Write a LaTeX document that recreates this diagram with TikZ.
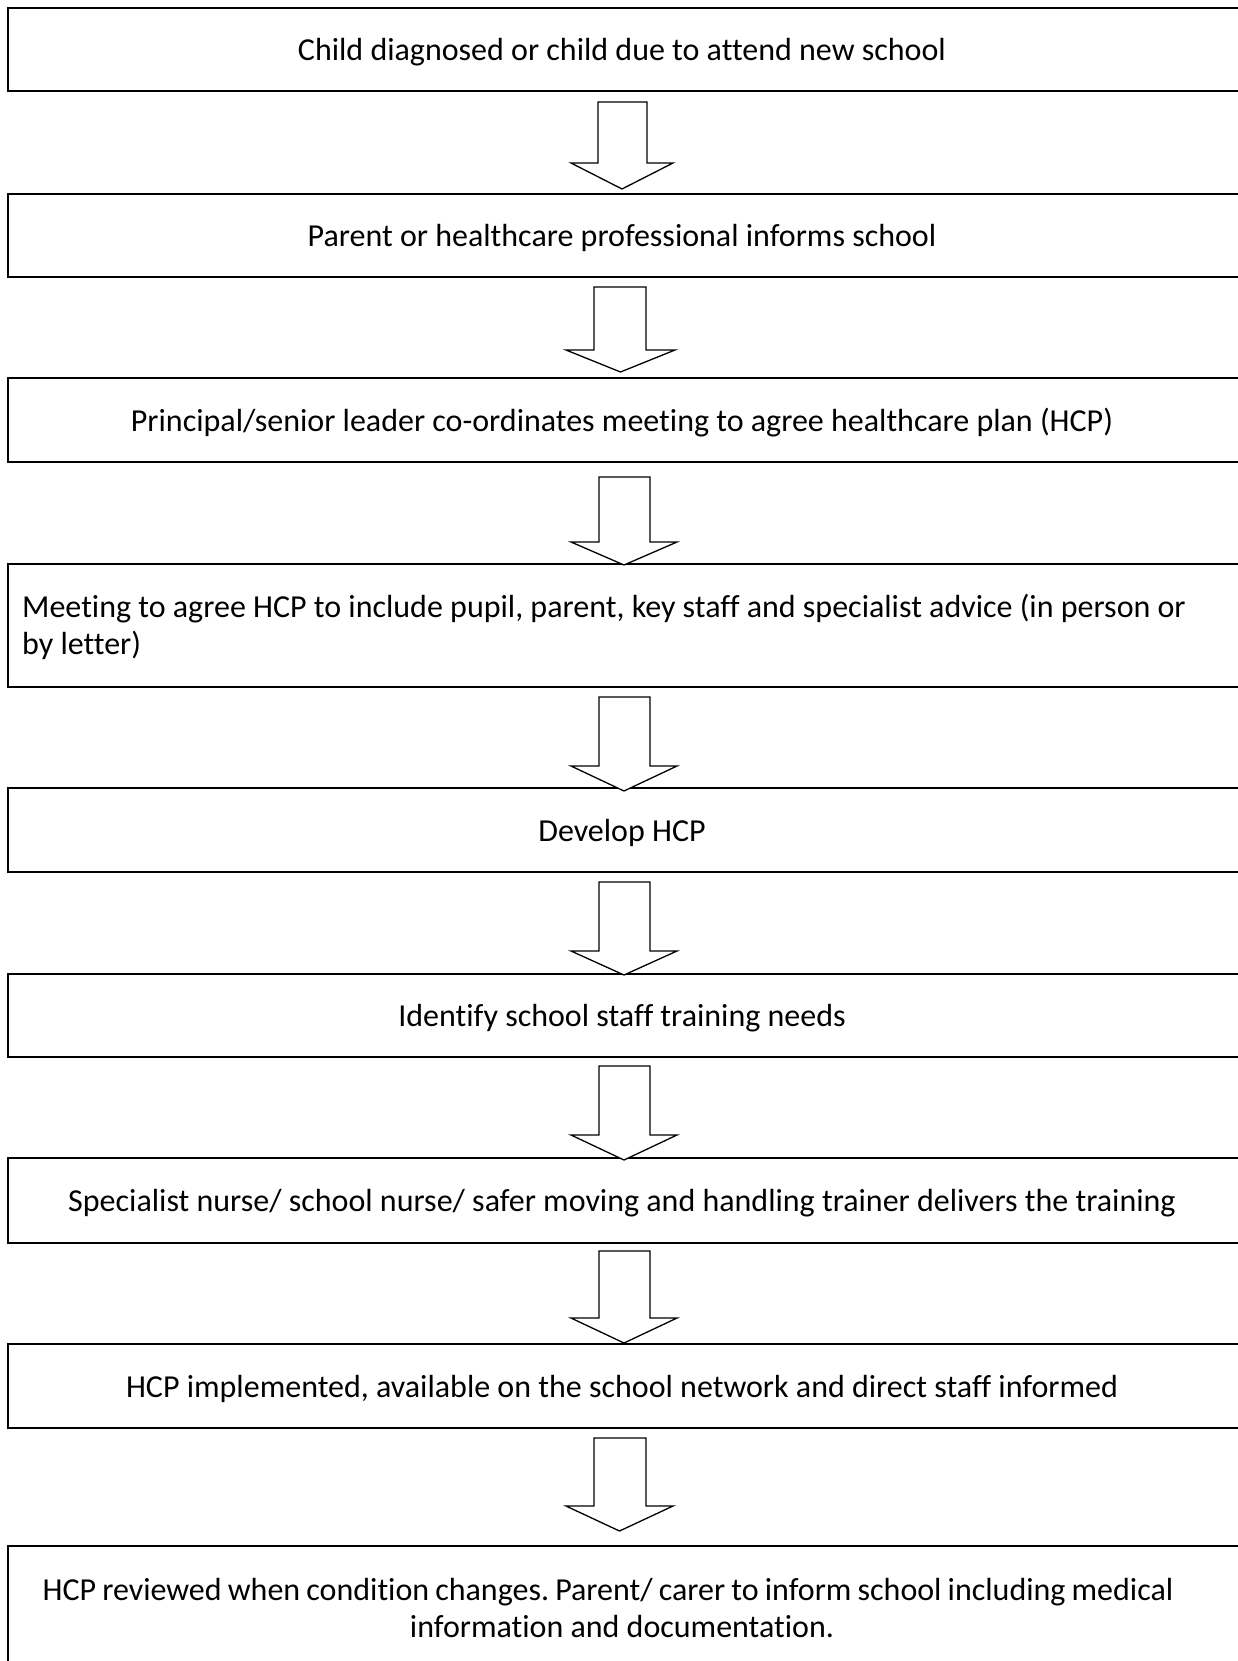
\documentclass[tikz,border=0pt]{standalone}
\usepackage{fontspec}
\setmainfont{Carlito}[Ligatures=NoCommon]
\frenchspacing
\newcommand{\blockarr}[7]{\draw[blockarrow] (#4,#1) -- (#5,#1) -- (#5,#2) -- (#7,#2) -- ({(#6+#7)/2},#3) -- (#6,#2) -- (#4,#2) -- cycle;}
\begin{document}
\begin{tikzpicture}[x=1pt,y=-1pt,
  stepbox/.style={draw, line width=2pt, anchor=north west, minimum width=1270pt, inner sep=0pt},
  blockarrow/.style={draw, line width=1.3pt, line join=miter, fill=white},
  txt/.style={font=\fontsize{32}{37}\selectfont, inner sep=0pt}]
\useasboundingbox (0,0) rectangle (1238,1661);
\fill[white] (0,0) rectangle (1238,1661);
\clip (0,0) rectangle (1238,1661);
% boxes
\node[stepbox, minimum height=83pt] (b1) at (7,7) {};
\node[stepbox, minimum height=83pt] (b2) at (7,193) {};
\node[stepbox, minimum height=84pt] (b3) at (7,377) {};
\node[stepbox, minimum height=123pt] (b4) at (7,563) {};
\node[stepbox, minimum height=84pt] (b5) at (7,787) {};
\node[stepbox, minimum height=83pt] (b6) at (7,973) {};
\node[stepbox, minimum height=85pt] (b7) at (7,1157) {};
\node[stepbox, minimum height=84pt] (b8) at (7,1343) {};
\node[stepbox, minimum height=200pt] (b9) at (7,1545) {};
% texts
\node[txt] (t1) at (622,52.5) {Child diagnosed or child due to attend new school};
\node[txt] (t2) at (622,238) {Parent or healthcare professional informs school};
\node[txt] (t3) at (622,422.5) {Principal/senior leader co-ordinates meeting to agree healthcare plan (HCP)};
\node[txt, anchor=west, align=left] (t4) at (22,627) {Meeting to agree HCP to include pupil, parent, key staff and specialist advice (in person or\\by letter)};
\node[txt] (t5) at (622,832.5) {Develop HCP};
\node[txt] (t6) at (622,1018) {Identify school staff training needs};
\node[txt] (t7) at (622,1203) {Specialist nurse/ school nurse/ safer moving and handling trainer delivers the training};
\node[txt] (t8) at (622,1388.5) {HCP implemented, available on the school network and direct staff informed};
\node[txt, align=center] (t9) at (622,1608) {{\spaceskip=0.85\fontdimen2\font plus 0pt minus 0pt HCP reviewed when condition changes. Parent/ carer to inform school including medical\hspace*{28pt}}\\information and documentation.};
% block arrows: top, headY, tip, shaftL, shaftR, headL, headR
\blockarr{102}{163}{189}{598}{647}{571}{673}
\blockarr{287}{350}{372}{594}{646}{566}{675}
\blockarr{477}{542}{565}{599}{650}{571}{677}
\blockarr{697}{766}{791}{599}{650}{571}{677}
\blockarr{882}{951}{975}{599}{650}{571}{677}
\blockarr{1066}{1135}{1160}{599}{650}{571}{677}
\blockarr{1251}{1318}{1343}{599}{650}{571}{677}
\blockarr{1438}{1506}{1531}{594}{646}{566}{673}
\end{tikzpicture}
\end{document}
